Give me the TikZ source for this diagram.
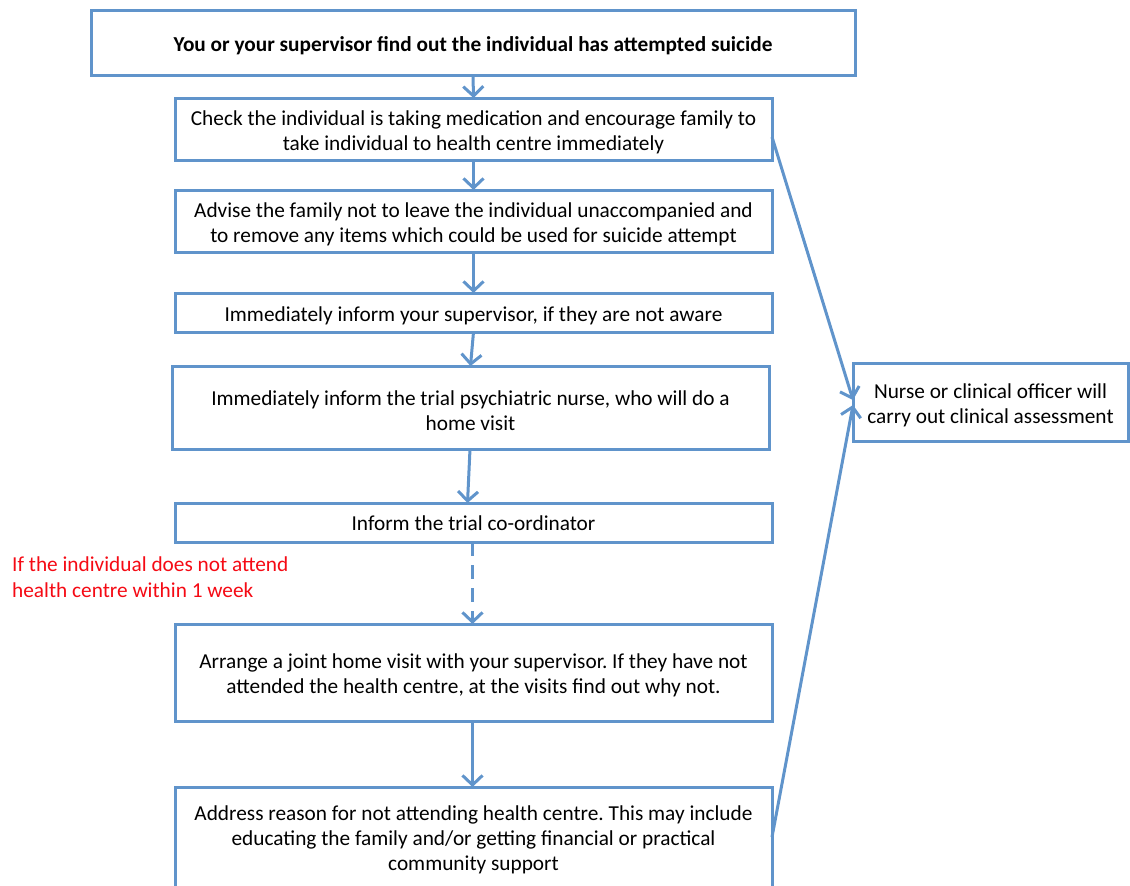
\documentclass[tikz,border=0pt]{standalone}
\usepackage{fontspec}
\setmainfont{Carlito}
\usetikzlibrary{arrows.meta,calc}
\frenchspacing
\definecolor{flowblue}{RGB}{96,148,203}
\definecolor{notered}{RGB}{245,10,20}
\newcommand{\boxfont}{\fontsize{21.3}{25.3}\selectfont}
\tikzset{
  stepbox/.style={draw=flowblue, line width=3pt, fill=white,
    inner sep=0pt, outer sep=0pt},
  steptext/.style={align=center, inner sep=0pt, font=\boxfont, yshift=-3pt},
  flow/.style={draw=flowblue, line width=3pt,
    -{Straight Barb[length=9.5pt,width=20pt]}},
}
\begin{document}
\begin{tikzpicture}[x=1pt,y=-1pt]
\useasboundingbox (0,0) rectangle (1130,886);

\node[stepbox, minimum width=764, minimum height=65,
  label={[steptext, font=\boxfont\bfseries]center:You or your supervisor find out the individual has attempted suicide}]
  (b1) at (473,42.5) {};
\node[stepbox, minimum width=597, minimum height=62,
  label={[steptext]center:Check the individual is taking medication and encourage family to\\take individual to health centre immediately}]
  (b2) at (473.5,129) {};
\node[stepbox, minimum width=597, minimum height=62,
  label={[steptext]center:Advise the family not to leave the individual unaccompanied and\\to remove any items which could be used for suicide attempt}]
  (b3) at (473.5,221) {};
\node[stepbox, minimum width=597, minimum height=39,
  label={[steptext]center:Immediately inform your supervisor, if they are not aware}]
  (b4) at (473.5,312.5) {};
\node[stepbox, minimum width=597, minimum height=83,
  label={[steptext]center:Immediately inform the trial psychiatric nurse, who will do a\\home visit}]
  (b5) at (470.5,407.5) {};
\node[stepbox, minimum width=597, minimum height=39,
  label={[steptext, yshift=2pt]center:Inform the trial co-ordinator}]
  (b6) at (473.5,522.5) {};
\node[stepbox, minimum width=597, minimum height=97,
  label={[steptext]center:Arrange a joint home visit with your supervisor. If they have not\\attended the health centre, at the visits find out why not.}]
  (b7) at (473.5,672.5) {};
\node[stepbox, minimum width=597, minimum height=104,
  label={[steptext, yshift=2pt]center:Address reason for not attending health centre. This may include\\educating the family and/or getting financial or practical\\community support}]
  (b8) at (473.5,839) {};
\node[stepbox, minimum width=275, minimum height=78,
  label={[steptext]center:Nurse or clinical officer will\\carry out clinical assessment}]
  (b9) at (990.5,402) {};

\node[anchor=north west, align=left, text=notered, inner sep=0pt,
  font=\boxfont] (note) at (12,557)
  {If the individual does not attend\\health centre within 1 week};

% main sequence
\draw[flow] (b1.south) -- (b2.north);
\draw[flow] (b2.south) -- (b3.north);
\draw[flow] (b3.south) -- (b4.north);
\draw[flow] (b4.south) -- (b5.north);
\draw[flow] ($(b5.south)+(-0.5,0)$) -- ($(b6.north)+(-6,0)$);
\draw[flow, dash pattern=on 14pt off 9pt] ($(b6.south)+(-1,0)$) -- ($(b7.north)+(-1,0)$);
\draw[flow] ($(b7.south)+(-1,0)$) -- ($(b8.north)+(-1,0)$);

% links to the clinical assessment
\draw[flow] ($(b2.east)+(0,8)$) -- ($(b9.west)+(0,-2)$);
\draw[flow] ($(b8.east)+(0,-2)$) -- ($(b9.west)+(0,3)$);
\end{tikzpicture}
\end{document}
